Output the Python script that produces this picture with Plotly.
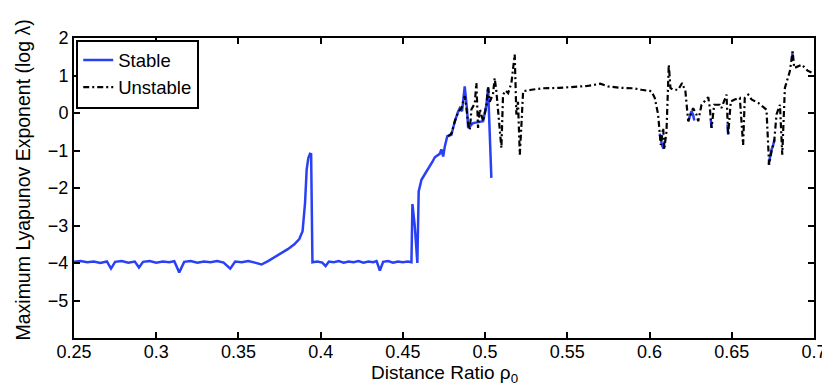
import plotly.graph_objects as go

# ---- Data ----
stable_x = [
    0.250, 0.254, 0.258, 0.262, 0.266, 0.270, 0.2725, 0.275, 0.279, 0.283, 0.287, 0.2895, 0.292,
    0.296, 0.300, 0.304, 0.308, 0.311, 0.314, 0.317, 0.321, 0.325, 0.329, 0.333, 0.337, 0.341,
    0.345, 0.348, 0.352, 0.356, 0.360, 0.364, 0.368, 0.372, 0.376, 0.380, 0.384, 0.387, 0.389,
    0.3905, 0.3915, 0.3925, 0.3935, 0.3942, 0.3950, 0.398, 0.401, 0.403, 0.405, 0.408, 0.411,
    0.414, 0.417, 0.420, 0.423, 0.426, 0.429, 0.432, 0.434, 0.436, 0.438, 0.441, 0.444, 0.447,
    0.450, 0.453, 0.4552, 0.4558, 0.4572, 0.4588, 0.4596, 0.4613, 0.4635, 0.4653, 0.468, 0.4694,
    0.4724, 0.4734, 0.4745, 0.4755, 0.4770, 0.4795, 0.4816, 0.4836, 0.4846, 0.4860, 0.4876,
    0.4890, 0.4897, 0.4927, 0.4988, 0.5008, 0.5018, 0.5038,
    None,
    0.6062, 0.6075, 0.6085, 0.6092,
    None,
    0.6235, 0.6245, 0.6255, 0.6265, 0.6272,
    None,
    0.6372, 0.6377,
    None,
    0.6474, 0.6478,
    None,
    0.6724, 0.6730, 0.6740, 0.6752, 0.6760,
    None,
    0.6866, 0.6870,
]
stable_y = [
    -3.97, -3.95, -3.98, -3.96, -4.00, -3.96, -4.15, -3.97, -3.95, -3.99, -3.96, -4.12, -3.97,
    -3.95, -3.99, -3.96, -3.98, -3.95, -4.25, -3.97, -3.95, -3.99, -3.96, -3.98, -3.95, -3.99,
    -4.15, -3.96, -3.98, -3.95, -3.99, -4.04, -3.95, -3.85, -3.74, -3.63, -3.50, -3.36, -3.15,
    -2.40, -1.50, -1.20, -1.09, -1.10, -3.98, -3.96, -3.99, -4.08, -3.96, -3.98, -3.95,
    -3.99, -3.96, -3.98, -3.95, -3.99, -3.96, -3.98, -3.95, -4.20, -3.97, -3.95, -3.99, -3.96,
    -3.98, -3.96, -3.98, -2.43, -3.00, -4.00, -2.09, -1.78, -1.62, -1.50, -1.30, -1.18,
    -1.09, -0.97, -1.16, -0.89, -0.62, -0.58, -0.22, 0.04, 0.13, 0.05, 0.71,
    0.10, -0.40, -0.27, -0.22, 0.22, 0.67, -1.73,
    None,
    -0.55, -0.85, -0.95, -0.75,
    None,
    -0.22, -0.05, 0.05, -0.05, -0.20,
    None,
    -0.15, -0.40,
    None,
    -0.30, -0.58,
    None,
    -1.38, -1.20, -1.00, -0.85, -0.70,
    None,
    1.45, 1.64,
]

unstable_x = [
    0.4775, 0.4795, 0.4816, 0.4836, 0.4856, 0.4876, 0.4886, 0.4897, 0.4907, 0.4917, 0.4937,
    0.4947, 0.4957, 0.4968, 0.4988, 0.5008, 0.5018, 0.5028, 0.5048, 0.5058, 0.5068, 0.5078,
    0.5089, 0.5099, 0.5109, 0.5125, 0.5140, 0.5160, 0.5180, 0.5185, 0.5190, 0.5200, 0.5211,
    0.5221, 0.5231, 0.5282, 0.5350, 0.5450, 0.5550, 0.5620, 0.5700, 0.5748, 0.5829, 0.5900,
    0.5951, 0.6012, 0.6032, 0.6052, 0.6068, 0.6083, 0.6089, 0.6103, 0.6117, 0.6127, 0.6143,
    0.6174, 0.6198, 0.6218, 0.6235, 0.6251, 0.6265, 0.6285, 0.6296, 0.6316, 0.6357, 0.6367,
    0.6377, 0.6393, 0.6427, 0.6437, 0.6468, 0.6478, 0.6494, 0.6518, 0.6549, 0.6569, 0.6579,
    0.6600, 0.6620, 0.6661, 0.6711, 0.6727, 0.6742, 0.6758, 0.6772, 0.6793, 0.6807, 0.6823,
    0.6853, 0.6870, 0.6880, 0.6925, 0.6961, 0.7000,
]
unstable_y = [
    -0.62, -0.55, -0.22, 0.02, 0.13, 0.45, 0.15, -0.30, -0.45, 0.10, 0.25,
    0.80, -0.40, 0.10, -0.22, 0.20, 0.70, 0.30, 0.50, 0.93, 0.60, 0.10,
    -0.40, -0.93, 0.49, 0.60, 0.53, 0.80, 1.56, 1.00, -0.04, 0.30, -1.11,
    -0.30, 0.58, 0.62, 0.66, 0.67, 0.70, 0.72, 0.78, 0.71, 0.67, 0.66,
    0.62, 0.58, 0.40, -0.04, -0.85, -0.40, -0.98, -0.49, 1.29, 0.67, 0.62,
    0.62, 0.80, 0.58, -0.22, -0.04, 0.13, -0.04, -0.22, 0.22, 0.42, 0.13,
    -0.40, 0.22, 0.22, 0.13, 0.49, -0.58, 0.31, 0.36, 0.40, -0.85, 0.40,
    0.49, 0.36, 0.27, 0.09, -1.38, -1.02, -0.76, -0.04, 0.22, -1.11, 0.67,
    1.11, 1.64, 1.20, 1.29, 1.13, 1.05,
]

x_tickvals = [0.25, 0.3, 0.35, 0.4, 0.45, 0.5, 0.55, 0.6, 0.65, 0.7]
x_ticktext = ["0.25", "0.3", "0.35", "0.4", "0.45", "0.5", "0.55", "0.6", "0.65", "0.7"]
y_tickvals = [-5, -4, -3, -2, -1, 0, 1, 2]
x_title = "Distance Ratio ρ<sub>0</sub>"
y_title = "Maximum Lyapunov Exponent (log λ)"

FONT = "Liberation Sans, Arial, Helvetica, sans-serif"

fig = go.Figure()
fig.add_trace(go.Scatter(
    x=stable_x, y=stable_y, mode="lines", name="Stable",
    line=dict(color="#2a40f5", width=2.5), connectgaps=False,
))
fig.add_trace(go.Scatter(
    x=unstable_x, y=unstable_y, mode="lines", name="Unstable",
    line=dict(color="black", width=2.2, dash="6px,3px,2px,3px"),
))

axis_common = dict(
    showline=True, linecolor="black", linewidth=2, mirror="ticks",
    ticks="inside", ticklen=6, tickwidth=2, tickcolor="black",
    showgrid=False, zeroline=False, automargin=False,
    tickfont=dict(family=FONT, size=18, color="black"),
)

fig.update_layout(
    width=830, height=386,
    margin=dict(l=66, r=24, t=30, b=56),
    paper_bgcolor="white", plot_bgcolor="white",
    font=dict(family=FONT, size=18, color="black"),
    showlegend=True,
    legend=dict(
        x=0.003, y=0.995, xanchor="left", yanchor="top",
        bordercolor="black", borderwidth=2, bgcolor="white",
        font=dict(family=FONT, size=18.5, color="black"),
        itemwidth=30, tracegroupgap=0,
    ),
    xaxis=dict(range=[0.25, 0.7], tickvals=x_tickvals, ticktext=x_ticktext,
               ticklabelstandoff=-4, **axis_common),
    yaxis=dict(range=[-6, 2], tickvals=y_tickvals, **axis_common),
    annotations=[
        dict(text=x_title, xref="paper", yref="paper", x=0.5, y=-0.119,
             xanchor="center", yanchor="middle", showarrow=False,
             font=dict(family=FONT, size=19, color="black")),
        dict(text=y_title, xref="paper", yref="paper", x=-0.069, y=0.528,
             xanchor="center", yanchor="middle", showarrow=False, textangle=-90,
             font=dict(family=FONT, size=19.5, color="black")),
    ],
)

fig.write_html("out.html")
